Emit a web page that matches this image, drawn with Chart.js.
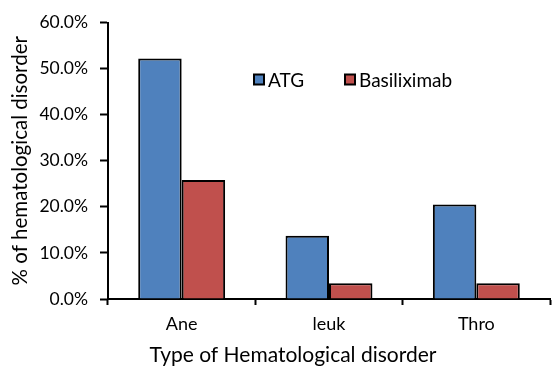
<!DOCTYPE html>
<html>
<head>
<meta charset="utf-8">
<script src="https://cdn.jsdelivr.net/npm/chart.js@4"></script>
<style>
  html, body { margin: 0; padding: 0; background: #fff; }
  #wrap { width: 552px; height: 369px; }
</style>
</head>
<body>
<div id="wrap"><canvas id="chart" width="552" height="369"></canvas></div>
<script>
const categories = ['Ane', 'leuk', 'Thro'];
const atgValues = [52.2, 13.7, 20.5];
const basiliximabValues = [25.8, 3.4, 3.4];
const seriesNames = ['ATG', 'Basiliximab'];
const yTicks = [0, 10, 20, 30, 40, 50, 60];
const xTitle = 'Type of Hematological disorder';

const fontFamily = "Lato, 'Open Sans', sans-serif";

// legend drawn inside the plot, plus the x title which sits left of centre in the original
const insideLegend = {
    id: 'insideLegend',
    afterDraw(chart) {
        const ctx = chart.ctx;
        const area = chart.chartArea;
        let x = area.left + 146;
        const y = area.top + 57;
        ctx.save();
        ctx.font = '19px ' + fontFamily;
        ctx.textBaseline = 'middle';
        chart.data.datasets.forEach((ds, i) => {
            ctx.fillStyle = ds.backgroundColor;
            ctx.fillRect(x, y - 5, 10, 10);
            ctx.strokeStyle = '#000';
            ctx.lineWidth = 2;
            ctx.strokeRect(x, y - 5, 10, 10);
            ctx.fillStyle = '#000';
            ctx.fillText(ds.label, x + 14, y + 1);
            x += 91;
        });

        ctx.font = '21px ' + fontFamily;
        ctx.textAlign = 'center';
        ctx.fillText(xTitle, area.left + 185, area.bottom + 56);
        ctx.restore();
    }
};

const ctx = document.getElementById('chart').getContext('2d');
new Chart(ctx, {
    type: 'bar',
    data: {
        labels: categories,
        datasets: [
            {
                label: seriesNames[0],
                data: atgValues,
                backgroundColor: '#4F81BD',
                borderColor: '#000',
                borderWidth: 2,
                categoryPercentage: 0.59,
                barPercentage: 1
            },
            {
                label: seriesNames[1],
                data: basiliximabValues,
                backgroundColor: '#C0504D',
                borderColor: '#000',
                borderWidth: 2,
                categoryPercentage: 0.59,
                barPercentage: 1
            }
        ]
    },
    options: {
        responsive: false,
        animation: false,
        layout: { padding: { top: 21, right: 2, bottom: 2, left: 8 } },
        plugins: {
            legend: { display: false },
            tooltip: { enabled: false }
        },
        scales: {
            x: {
                grid: {
                    drawOnChartArea: false,
                    tickLength: 6,
                    tickColor: '#000',
                    tickWidth: 2
                },
                border: { color: '#000', width: 2 },
                ticks: {
                    color: '#000',
                    font: { family: fontFamily, size: 18 },
                    padding: 8
                },
                afterFit(scale) { scale.height = 68; }
            },
            y: {
                min: 0,
                max: 60,
                afterBuildTicks(scale) {
                    scale.ticks = yTicks.map(v => ({ value: v }));
                },
                grid: {
                    drawOnChartArea: false,
                    tickLength: 8,
                    tickColor: '#000',
                    tickWidth: 2
                },
                border: { color: '#000', width: 2 },
                ticks: {
                    color: '#000',
                    font: { family: fontFamily, size: 17.5 },
                    padding: 12,
                    callback: v => v.toFixed(1) + '%'
                },
                title: {
                    display: true,
                    text: '% of hematological disorder',
                    color: '#000',
                    font: { family: fontFamily, size: 20.5 },
                    padding: { top: 0, bottom: 0 }
                },
                afterFit(scale) { scale.width = 100; }
            }
        }
    },
    plugins: [insideLegend]
});
</script>
</body>
</html>
